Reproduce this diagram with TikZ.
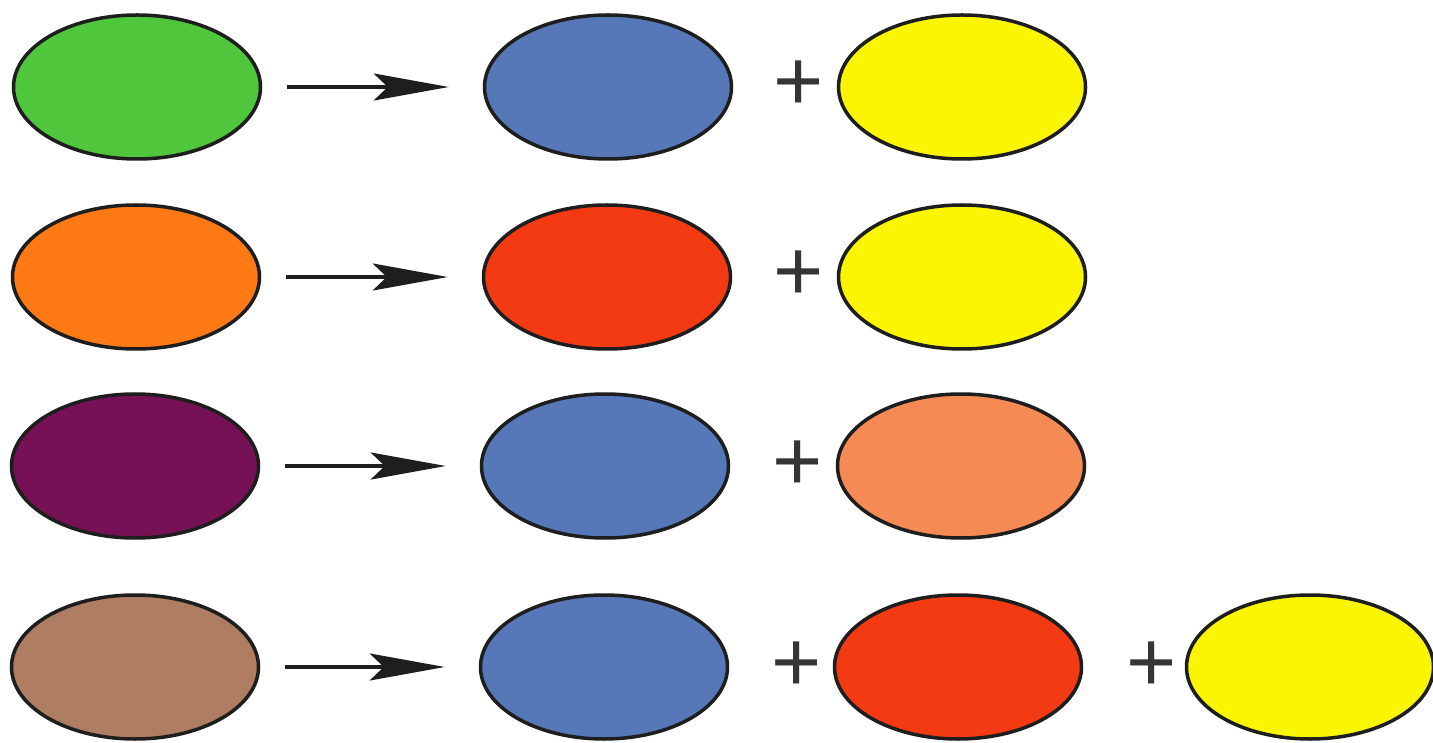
\documentclass[tikz,border=0pt]{standalone}
\usepackage{fontspec}
\setmainfont{Liberation Sans}
\usetikzlibrary{shapes.geometric,arrows.meta}
\definecolor{cgreen}{HTML}{4FC63C}
\definecolor{cblue}{HTML}{5678B8}
\definecolor{cyellow}{HTML}{FAF500}
\definecolor{corange}{HTML}{FF7A14}
\definecolor{cred}{HTML}{F43A12}
\definecolor{cpurple}{HTML}{761155}
\definecolor{csalmon}{HTML}{F58A55}
\definecolor{cbrown}{HTML}{AE7D62}
\definecolor{cline}{HTML}{1E1E1E}
\tikzset{
  blob/.style={ellipse, draw=cline, line width=3.5pt, minimum width=247pt, minimum height=144pt, inner sep=0pt},
  plus/.style={text=cline!90, font=\fontsize{86}{86}\selectfont, inner sep=0pt},
  goesto/.style={draw=cline, line width=3.5pt, -{Stealth[length=75pt, width=27pt, inset=14pt]}, shorten <=25pt, shorten >=34pt}
}
\begin{document}
\begin{tikzpicture}[x=1pt,y=-1pt]
\useasboundingbox (0,0) rectangle (1433,743);
\fill[white] (0,0) rectangle (1433,743);
% row 1
\node[blob, fill=cgreen] (a1) at (137,87) {};
\node[blob, fill=cblue] (b1) at (608,87) {};
\node[plus] (p1) at (799,86) {+};
\node[blob, fill=cyellow] (c1) at (962,87) {};
\draw[goesto] (a1) -- (b1);
% row 2
\node[blob, fill=corange] (a2) at (136,277) {};
\node[blob, fill=cred] (b2) at (607,277) {};
\node[plus] (p2) at (799,276) {+};
\node[blob, fill=cyellow] (c2) at (962,277) {};
\draw[goesto] (a2) -- (b2);
% row 3
\node[blob, fill=cpurple] (a3) at (135,466) {};
\node[blob, fill=cblue] (b3) at (605,466) {};
\node[plus] (p3) at (798,466) {+};
\node[blob, fill=csalmon] (c3) at (961,466) {};
\draw[goesto] (a3) -- (b3);
% row 4
\node[blob, fill=cbrown] (a4) at (135,667) {};
\node[blob, fill=cblue] (b4) at (604,667) {};
\node[plus] (p4) at (797,667) {+};
\node[blob, fill=cred] (c4) at (958,667) {};
\node[plus] (p5) at (1152,667) {+};
\node[blob, fill=cyellow] (d4) at (1310,667) {};
\draw[goesto] (a4) -- (b4);
\end{tikzpicture}
\end{document}
